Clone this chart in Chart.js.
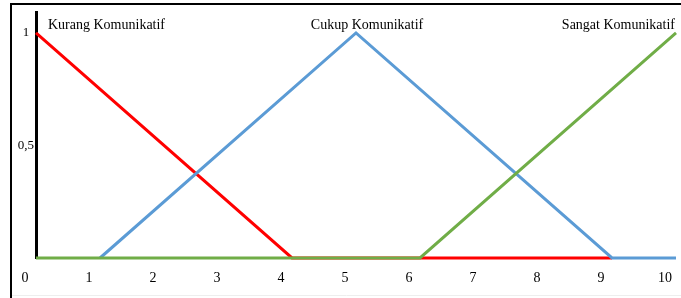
<!DOCTYPE html>
<html>
<head>
<meta charset="utf-8">
<script src="https://cdn.jsdelivr.net/npm/chart.js@4/dist/chart.umd.min.js"></script>
<style>
  html, body { margin: 0; padding: 0; background: #fff; }
  #wrap { width: 681px; height: 298px; position: relative; }
</style>
</head>
<body>
<div id="wrap"><canvas id="c" width="681" height="298"></canvas></div>
<script>
// ---- data ----
const seriesNames = ['Kurang Komunikatif', 'Cukup Komunikatif', 'Sangat Komunikatif'];
const kurangX = [0, 4, 9];
const kurangY = [1, 0, 0];
const cukupX = [1, 5, 9, 10];
const cukupY = [0, 1, 0, 0];
const sangatX = [0, 6, 10];
const sangatY = [0, 0, 1];
const xTickValues = [0, 1, 2, 3, 4, 5, 6, 7, 8, 9, 10];
const yTickValues = [0.5, 1];
const yTickLabels = ['0,5', '1'];
const labelAnchorX = [0, 5, 10];

const toPts = (xs, ys) => xs.map((x, i) => ({ x: x, y: ys[i] }));

const frame = {
  id: 'frame',
  beforeDraw(chart) {
    const ctx = chart.ctx;
    ctx.save();
    ctx.strokeStyle = '#000';
    ctx.lineWidth = 2;
    ctx.beginPath();
    ctx.moveTo(11, 298);
    ctx.lineTo(11, 4);
    ctx.lineTo(681, 4);
    ctx.stroke();
    ctx.strokeStyle = '#eeeeee';
    ctx.lineWidth = 1;
    ctx.beginPath();
    ctx.moveTo(12, 295.5);
    ctx.lineTo(681, 295.5);
    ctx.stroke();
    ctx.restore();
  }
};

const seriesLabels = {
  id: 'seriesLabels',
  afterDatasetsDraw(chart) {
    const ctx = chart.ctx;
    const xs = chart.scales.x, ys = chart.scales.y;
    const aligns = ['left', 'center', 'right'];
    const offs = [12, 11, -1];
    ctx.save();
    ctx.fillStyle = '#000';
    ctx.font = '14px "Liberation Serif", "Times New Roman", serif';
    ctx.textBaseline = 'middle';
    seriesNames.forEach((n, i) => {
      ctx.textAlign = aligns[i];
      ctx.fillText(n, xs.getPixelForValue(labelAnchorX[i]) + offs[i], ys.getPixelForValue(1.036));
    });
    ctx.restore();
  }
};

new Chart(document.getElementById('c'), {
  type: 'line',
  data: {
    datasets: [
      { label: seriesNames[0], data: toPts(kurangX, kurangY), borderColor: '#FF0000', borderWidth: 3, pointRadius: 0, fill: false, order: 3, clip: false },
      { label: seriesNames[1], data: toPts(cukupX, cukupY), borderColor: '#5B9BD5', borderWidth: 3, pointRadius: 0, fill: false, order: 2, clip: false },
      { label: seriesNames[2], data: toPts(sangatX, sangatY), borderColor: '#70AD47', borderWidth: 3, pointRadius: 0, fill: false, order: 1, clip: false }
    ]
  },
  options: {
    responsive: false,
    animation: false,
    events: [],
    layout: { padding: { left: 0, right: 5, top: 12, bottom: 0 } },
    plugins: { legend: { display: false }, tooltip: { enabled: false } },
    scales: {
      x: {
        type: 'linear',
        min: 0, max: 10,
        afterBuildTicks(scale) { scale.ticks = xTickValues.map(v => ({ value: v })); },
        afterFit(scale) { scale.height = 40; scale.paddingLeft = 0; scale.paddingRight = 0; },
        grid: { display: false, drawTicks: false },
        border: { display: false },
        ticks: {
          padding: 12,
          labelOffset: -11,
          maxRotation: 0,
          autoSkip: false,
          color: '#000',
          font: { family: '"Liberation Serif", "Times New Roman", serif', size: 14 },
          callback: (v) => String(v)
        }
      },
      y: {
        type: 'linear',
        min: 0, max: 1.093,
        afterBuildTicks(scale) { scale.ticks = yTickValues.map(v => ({ value: v })); },
        afterFit(scale) { scale.width = 36; scale.paddingTop = 0; scale.paddingBottom = 0; },
        grid: { display: false, drawTicks: false },
        border: { display: true, color: '#000', width: 3 },
        ticks: {
          padding: 2,
          crossAlign: 'center',
          color: '#000',
          font: { family: '"Liberation Serif", "Times New Roman", serif', size: 13 },
          callback: (v) => { const i = yTickValues.indexOf(v); return i >= 0 ? yTickLabels[i] : ''; }
        }
      }
    }
  },
  plugins: [frame, seriesLabels]
});
</script>
</body>
</html>
